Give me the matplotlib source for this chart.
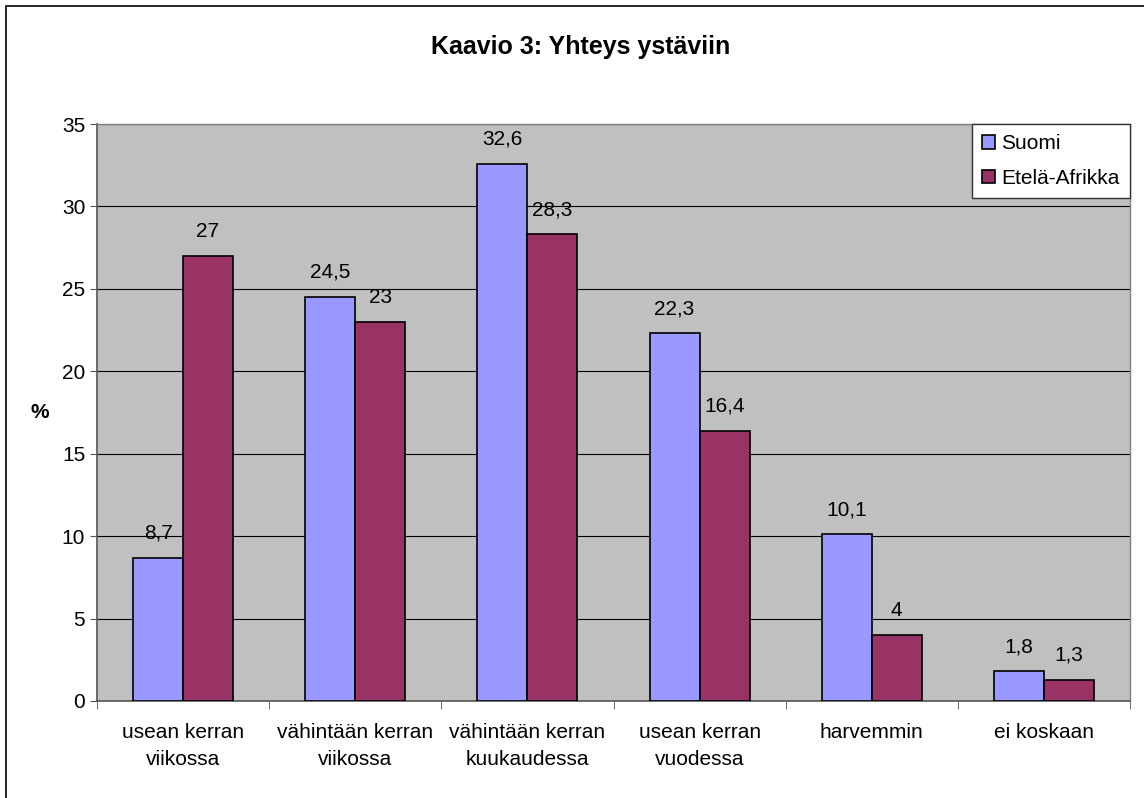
import numpy as np
import matplotlib.pyplot as plt
from matplotlib.patches import Rectangle

plt.rcParams['font.family'] = ['Liberation Sans', 'DejaVu Sans']

categories = ['usean kerran\nviikossa', 'vähintään kerran\nviikossa', 'vähintään kerran\nkuukaudessa',
              'usean kerran\nvuodessa', 'harvemmin', 'ei koskaan']
suomi = [8.7, 24.5, 32.6, 22.3, 10.1, 1.8]
afrikka = [27, 23, 28.3, 16.4, 4, 1.3]
series_names = ['Suomi', 'Etelä-Afrikka']
colors = ['#9999FF', '#993366']


def fmt(v):
    return ('%g' % v).replace('.', ',')


def main():
    fig = plt.figure(figsize=(11.44, 7.98), dpi=100)
    fig.patches.append(Rectangle((6 / 1144, -0.1), 1.2, 1 - 6 / 798 + 0.1, transform=fig.transFigure,
                                 fill=False, edgecolor='black', linewidth=1.2))
    ax = fig.add_axes([97 / 1144, 1 - 701 / 798, 1033 / 1144, 577 / 798])
    ax.set_facecolor('#C0C0C0')

    fs = 15
    x = np.arange(len(categories))
    w = 0.29
    for vals, name, c, off in zip([suomi, afrikka], series_names, colors, [-w / 2, w / 2]):
        ax.bar(x + off, vals, w, color=c, edgecolor='black', linewidth=1.2, label=name, zorder=3)
        for xi, v in zip(x + off, vals):
            ax.annotate(fmt(v), (xi, v), xytext=(0, 11), textcoords='offset points',
                        ha='center', va='bottom', fontsize=fs)

    ax.set_xlim(-0.5, len(categories) - 0.5)
    ax.set_ylim(0, 35)
    ax.set_yticks(range(0, 36, 5))
    ax.set_xticks(x)
    ax.set_xticklabels(categories, fontsize=fs, linespacing=1.55)
    ax.set_xticks(np.arange(-0.5, len(categories), 1), minor=True)
    ax.tick_params(axis='x', which='major', length=0, pad=16)
    ax.tick_params(axis='x', which='minor', length=6, direction='out', color='#555555')
    ax.tick_params(axis='y', labelsize=fs, length=5, direction='out', color='#555555')
    ax.yaxis.grid(True, color='black', linewidth=0.8, zorder=0)
    ax.set_axisbelow(True)
    for s in ['left', 'bottom']:
        ax.spines[s].set_color('#555555')
        ax.spines[s].set_linewidth(1.2)
    for s in ['top', 'right']:
        ax.spines[s].set_color('#808080')
        ax.spines[s].set_linewidth(1.0)

    fig.text(40 / 1144, 1 - 412 / 798, '%', ha='center', va='center', fontsize=fs, fontweight='bold')
    fig.text(581 / 1144, 1 - 47 / 798, 'Kaavio 3: Yhteys ystäviin', ha='center', va='center',
             fontsize=18, fontweight='bold')

    leg = ax.legend(loc='upper right', bbox_to_anchor=(1.0, 1.0), fontsize=fs, frameon=True,
                    fancybox=False, edgecolor='#333333', framealpha=1, handlelength=0.6,
                    handleheight=0.6, handletextpad=0.3, labelspacing=0.75, borderpad=0.5,
                    borderaxespad=0)
    leg.get_frame().set_linewidth(1.0)

    fig.savefig('out.png', dpi=100)


main()
